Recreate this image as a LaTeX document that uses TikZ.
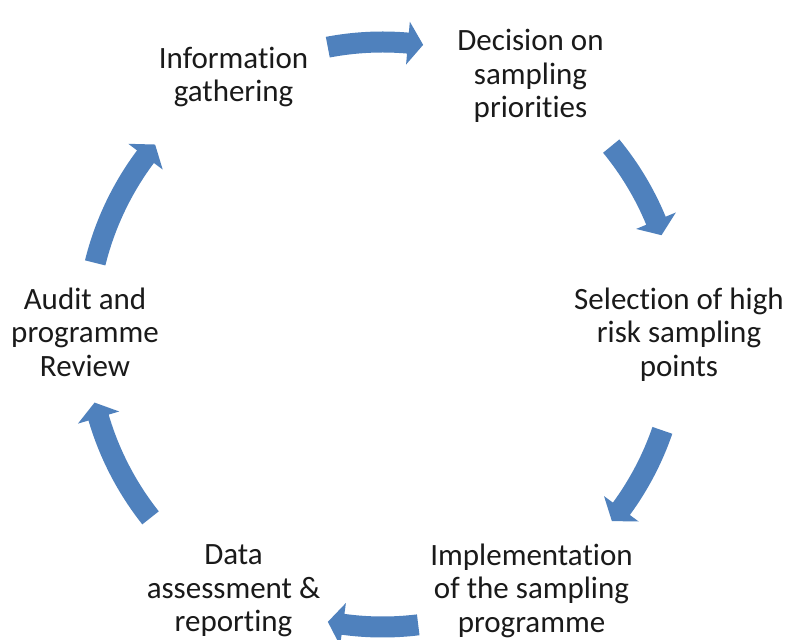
\documentclass[tikz,border=0pt]{standalone}
\usepackage{fontspec}
\setmainfont{Carlito}[Ligatures=NoCommon]
\definecolor{arrowblue}{HTML}{4F81BD}
\definecolor{txt}{HTML}{1A1A1A}
\newcommand{\cycarrow}[3]{%
  \pgfmathsetmacro{\cabase}{#2+3}%
  \pgfmathsetmacro{\caRo}{#3+10.5}%
  \pgfmathsetmacro{\caRi}{#3-10.5}%
  \pgfmathsetmacro{\caHo}{#3+21.5}%
  \pgfmathsetmacro{\caHi}{#3-21.5}%
  \fill[arrowblue,shift={(382.5pt,305pt)}] (#1:\caRo pt)
    arc[start angle=#1, end angle=\cabase, radius=\caRo pt]
    -- (\cabase:\caHo pt) -- (#2:#3 pt) -- (\cabase:\caHi pt)
    -- (\cabase:\caRi pt)
    arc[start angle=\cabase, end angle=#1, radius=\caRi pt] -- cycle;
}
\tikzset{lbl/.style={align=center, font=\fontsize{31}{33.5}\selectfont, text=txt, inner sep=0pt}}
\begin{document}
\begin{tikzpicture}[x=1pt,y=1pt]
\useasboundingbox (0,0) rectangle (786,639);
\fill[white] (0,0) rectangle (786,639);
\node[lbl] (n1) at (233.5,562) {Information\\gathering};
\node[lbl] (n2) at (530.5,563) {Decision on\\sampling\\priorities};
\node[lbl] (n3) at (679,304.5) {Selection of high\\risk sampling\\points};
\node[lbl] (n4) at (531.5,48.5) {Implementation\\of the sampling\\programme};
\node[lbl] (n5) at (233.5,48) {Data\\assessment \&\\reporting};
\node[lbl] (n6) at (85,307) {Audit and\\programme\\Review};
\cycarrow{100.8}{82}{292}
\cycarrow{39.4}{19.5}{296}
\cycarrow{-19}{-39.2}{296}
\cycarrow{-83}{-100.75}{293}
\cycarrow{-141.6}{-166.6}{296}
\cycarrow{166.1}{140.2}{296}
\end{tikzpicture}
\end{document}
